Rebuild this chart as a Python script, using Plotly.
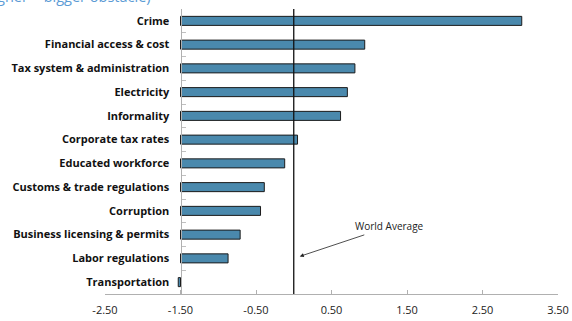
import plotly.graph_objects as go

# Obstacle scores relative to the world average (0)
categories = [
    "Crime",
    "Financial access & cost",
    "Tax system & administration",
    "Electricity",
    "Informality",
    "Corporate tax rates",
    "Educated workforce",
    "Customs & trade regulations",
    "Corruption",
    "Business licensing & permits",
    "Labor regulations",
    "Transportation",
]
scores = [3.02, 0.94, 0.81, 0.71, 0.62, 0.05, -0.12, -0.39, -0.44, -0.71, -0.87, -1.53]

x_ticks = [-2.5, -1.5, -0.5, 0.5, 1.5, 2.5, 3.5]
x_tick_text = ["-2.50", "-1.50", "-0.50", "0.50", "1.50", "2.50", "3.50"]
axis_cross = -1.5   # category axis crosses the value axis here; bars grow from it
world_average = 0.0

bar_len = [s - axis_cross for s in scores]
n = len(categories)

fig = go.Figure()
fig.add_trace(go.Bar(
    y=categories,
    x=bar_len,
    base=[axis_cross] * n,
    orientation="h",
    width=0.38,
    marker=dict(color="#4a89ad", line=dict(color="#1c1c1c", width=1)),
    hoverinfo="skip",
))

# world-average reference line
fig.add_shape(type="line", xref="x", yref="paper",
              x0=world_average, x1=world_average, y0=0, y1=1,
              line=dict(color="#111111", width=1.3))

fig.add_annotation(
    x=0.08, y="Labor regulations", xref="x", yref="y", yshift=2,
    ax=90, ay=-30, axref="pixel", ayref="pixel",
    text="World Average", showarrow=True,
    arrowhead=2, arrowsize=1, arrowwidth=0.8, arrowcolor="#222222",
    font=dict(family="Open Sans", size=10, color="#222222"),
)

# heading, running off the top-left of the page
fig.add_annotation(
    xref="paper", yref="paper", x=0.106, y=1.0, yshift=1,
    xanchor="right", yanchor="bottom",
    text="Obstacle score (higher = bigger obstacle)", showarrow=False,
    font=dict(family="Open Sans", size=14.5, color="#5b9bd5"),
)

fig.update_layout(
    width=572, height=321,
    margin=dict(l=105, r=14, t=9, b=27, autoexpand=False),
    paper_bgcolor="white", plot_bgcolor="white",
    showlegend=False,
    xaxis=dict(
        range=[-2.5, 3.5],
        tickvals=x_ticks,
        ticktext=x_tick_text,
        ticks="inside", ticklen=4, tickcolor="#b0b0b0",
        ticklabelstandoff=6,
        showline=True, linecolor="#b0b0b0", linewidth=1,
        showgrid=False, zeroline=False,
        tickfont=dict(family="Open Sans", size=11, color="#222222"),
    ),
    yaxis=dict(
        categoryorder="array", categoryarray=categories,
        range=[n - 0.5, -0.5],
        anchor="free", position=(axis_cross + 2.5) / 6.0,
        tickson="boundaries",
        ticks="inside", ticklen=4, tickcolor="#c0c0c0",
        ticklabelstandoff=9,
        showline=True, linecolor="#b0b0b0", linewidth=1,
        showgrid=False, zeroline=False,
        tickfont=dict(family="Open Sans", size=11, color="#111111", weight="bold"),
    ),
)

fig.write_html("out.html")
